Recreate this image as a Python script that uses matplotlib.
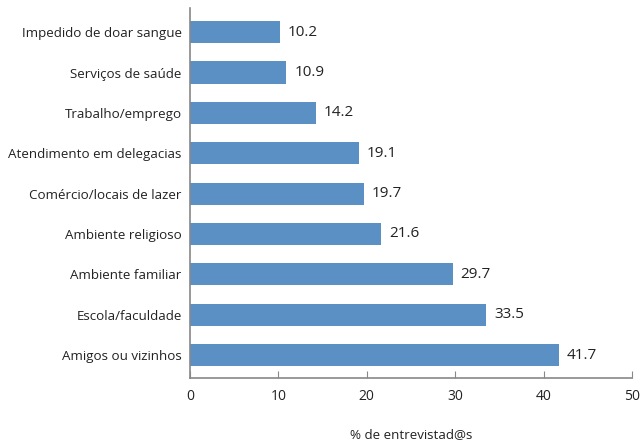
import matplotlib.pyplot as plt

categorias = ['Amigos ou vizinhos', 'Escola/faculdade', 'Ambiente familiar',
              'Ambiente religioso', 'Comércio/locais de lazer',
              'Atendimento em delegacias', 'Trabalho/emprego',
              'Serviços de saúde', 'Impedido de doar sangue']
valores = [41.7, 33.5, 29.7, 21.6, 19.7, 19.1, 14.2, 10.9, 10.2]
xticks = [0, 10, 20, 30, 40, 50]

plt.rcParams['font.family'] = ['Open Sans', 'DejaVu Sans']

fig = plt.figure(figsize=(6.41, 4.43), dpi=100)
ax = fig.add_axes([190/641, 1 - 378/443, 442/641, 370/443])

pos = range(len(categorias))
ax.barh(pos, valores, height=0.55, color='#5a90c4')
for p, v in zip(pos, valores):
    ax.text(v + 0.9, p, f'{v:.1f}', va='center', ha='left', fontsize=11, color='#222222')

ax.set_xlim(0, 50)
ax.set_ylim(-0.57, 8.6)
ax.set_xticks(xticks)
ax.set_yticks(list(pos))
ax.set_yticklabels(categorias, fontsize=9.6, color='#222222')
ax.tick_params(axis='x', direction='in', length=5, color='#888888', labelsize=10,
               labelcolor='#222222', pad=8)
ax.tick_params(axis='y', length=0, pad=6)
for s in ['top', 'right']:
    ax.spines[s].set_visible(False)
for s in ['left', 'bottom']:
    ax.spines[s].set_color('#888888')
    ax.spines[s].set_linewidth(1.2)

fig.text(411/641, 1 - 435/443, '% de entrevistad@s', ha='center', va='center',
         fontsize=9.6, color='#222222')

fig.savefig('out.png', dpi=100)
